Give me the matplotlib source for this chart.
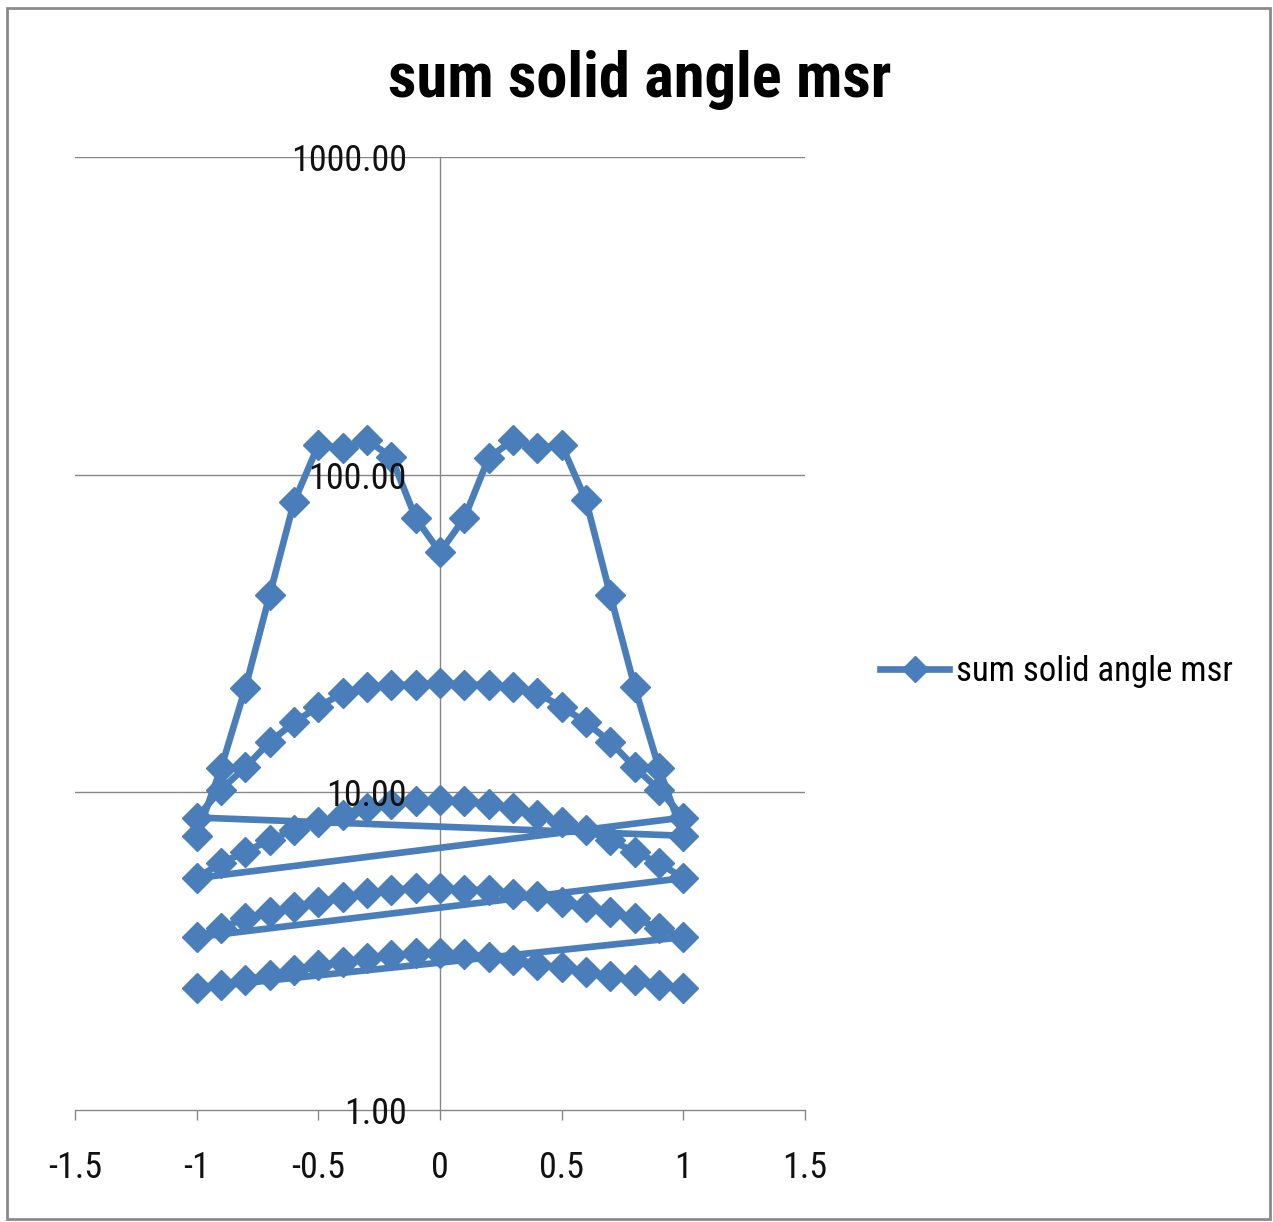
import matplotlib
matplotlib.use('Agg')
import matplotlib.pyplot as plt
from matplotlib import font_manager
from matplotlib.patches import Rectangle
from matplotlib.ticker import FixedLocator, NullLocator

# ---------------- data ----------------
x_positions = [-1.0, -0.9, -0.8, -0.7, -0.6, -0.5, -0.4, -0.3, -0.2, -0.1, 0.0,
               0.1, 0.2, 0.3, 0.4, 0.5, 0.6, 0.7, 0.8, 0.9, 1.0]

sweep_1 = [7.3, 11.9, 21.3, 41.8, 82.0, 124.0, 121.0, 128.5, 113.6, 73.0, 57.0,
           73.0, 113.0, 128.5, 121.0, 124.0, 83.0, 41.8, 21.5, 11.9, 7.3]
sweep_2 = [8.33, 10.2, 12.0, 14.4, 16.6, 18.6, 20.5, 21.4, 21.8, 21.8, 22.1,
           21.8, 21.8, 21.4, 20.5, 18.6, 16.6, 14.4, 12.0, 10.2, 8.33]
sweep_3 = [5.37, 5.99, 6.49, 7.08, 7.61, 8.07, 8.48, 8.93, 9.19, 9.39, 9.46,
           9.39, 9.19, 8.93, 8.48, 8.07, 7.61, 7.08, 6.49, 5.99, 5.37]
sweep_4 = [3.50, 3.74, 4.02, 4.20, 4.36, 4.52, 4.68, 4.82, 4.93, 5.00, 5.00,
           4.93, 4.93, 4.78, 4.70, 4.52, 4.36, 4.20, 4.02, 3.74, 3.50]
sweep_5 = [2.42, 2.47, 2.57, 2.66, 2.76, 2.86, 2.92, 3.01, 3.07, 3.12, 3.12,
           3.10, 3.03, 2.97, 2.86, 2.81, 2.72, 2.64, 2.57, 2.47, 2.42]

series_name = "sum solid angle msr"
chart_title = "sum solid angle msr"
x_ticks = [-1.5, -1.0, -0.5, 0.0, 0.5, 1.0, 1.5]
x_tick_labels = ["-1.5", "-1", "-0.5", "0", "0.5", "1", "1.5"]
y_ticks = [1, 10, 100, 1000]
y_tick_labels = ["1.00", "10.00", "100.00", "1000.00"]

# --------------- fonts ----------------
def pick(*names):
    for n in names:
        try:
            font_manager.findfont(font_manager.FontProperties(family=n),
                                  fallback_to_default=False)
            return n
        except Exception:
            pass
    return 'DejaVu Sans'

narrow = pick('Liberation Sans Narrow', 'DejaVu Sans Condensed', 'Roboto Condensed', 'Lato')
plt.rcParams['font.family'] = [narrow, 'DejaVu Sans']

# --------------- figure ---------------
W, H = 1273, 1222
fig = plt.figure(figsize=(W / 100, H / 100), dpi=100)
fig.patch.set_facecolor('white')

ax = fig.add_axes([75 / W, 1 - 1110 / H, (805 - 75) / W, (1110 - 157) / H])

xs = x_positions * 5
ys = sweep_1 + sweep_2 + sweep_3 + sweep_4 + sweep_5
blue = '#4A7EBB'
ax.plot(xs, ys, color=blue, lw=4.8, marker='D', markersize=15,
        markerfacecolor=blue, markeredgecolor=blue, label=series_name,
        solid_joinstyle='round', zorder=2)

ax.set_yscale('log')
ax.set_xlim(-1.5, 1.5)
ax.set_ylim(1, 1000)

grid_col = '#878787'
ax.xaxis.set_major_locator(FixedLocator(x_ticks))
ax.set_xticklabels(x_tick_labels)
ax.yaxis.set_major_locator(FixedLocator(y_ticks))
ax.yaxis.set_minor_locator(NullLocator())
ax.set_yticklabels(y_tick_labels)
ax.grid(False)
for v in y_ticks[1:]:
    ax.axhline(v, color=grid_col, lw=1.0, zorder=0.5)

for s in ['top', 'right']:
    ax.spines[s].set_visible(False)
ax.spines['left'].set_position(('data', 0))
ax.spines['left'].set_color(grid_col)
ax.spines['bottom'].set_color(grid_col)
ax.spines['left'].set_linewidth(1.0)
ax.spines['bottom'].set_linewidth(1.0)
ax.spines['left'].set_zorder(1)
ax.spines['bottom'].set_zorder(1)

ax.tick_params(axis='x', direction='out', length=7, width=1, color=grid_col,
               labelsize=26, pad=22, labelcolor='#111111')
ax.tick_params(axis='y', length=0, labelsize=26, pad=24, labelcolor='#111111')
ax.yaxis.set_zorder(5)

fig.text(640 / W, 1 - 97 / H, chart_title, ha='center', va='baseline',
         fontsize=45, fontweight='bold', color='black')

fig.legend(loc='center left', bbox_to_anchor=(880 / W, 1 - 672 / H),
           frameon=False, fontsize=25, borderpad=0, borderaxespad=0,
           handlelength=2.0, handletextpad=0.2, markerscale=0.85)

fig.patches.append(Rectangle((7 / W, 3 / H), (1270 - 7) / W, (1214 - 3) / H,
                             transform=fig.transFigure, fill=False,
                             edgecolor='#8a8a8a', lw=2))

fig.savefig('out.png', dpi=100, facecolor='white')
